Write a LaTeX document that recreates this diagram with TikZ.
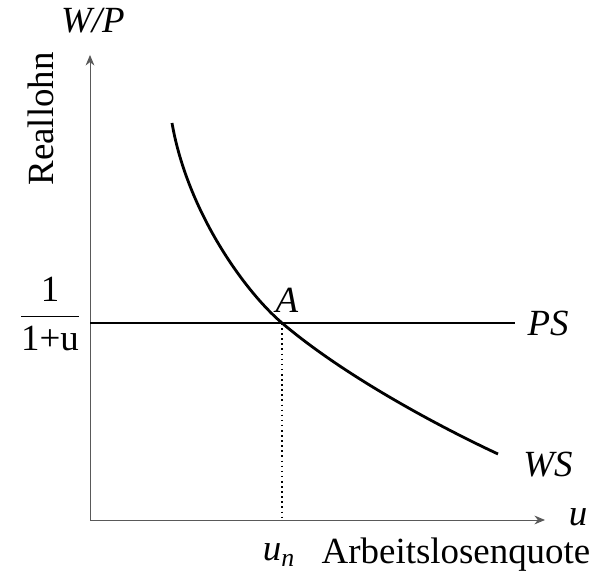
\documentclass[tikz,border=0pt]{standalone}
\usepackage{amsmath}
\usepackage{fontspec}
\setmainfont{Liberation Serif}
\usetikzlibrary{arrows.meta}

\begin{document}
\begin{tikzpicture}[font=\fontsize{21}{24}\selectfont,
    axis/.style={gray!70!black, line width=0.5pt, -{Stealth[length=6pt,width=5pt]}},
    curve/.style={line width=1.6pt}]
    \useasboundingbox (0,0) rectangle (11.94,11.64);

    % Axes
    \coordinate (O) at (1.8,1.24);
    \coordinate (ytop) at (1.8,10.54);
    \coordinate (xend) at (10.9,1.24);
    \draw[axis] (O) -- (ytop);
    \draw[axis] (O) -- (xend);
    \node (wp) at (1.86,11.22) {\textit{W/P}};
    \node (u) at (11.56,1.3) {\textit{u}};
    \node[rotate=90] (reallohn) at (0.82,9.26) {Reallohn};

    % PS curve
    \coordinate (psstart) at (1.8,5.18);
    \coordinate (psend) at (10.3,5.18);
    \draw[curve] (psstart) -- (psend);
    \node (ps) at (10.96,5.18) {\textit{PS}};
    \node (markup) at (1.0,5.36) {$\dfrac{\textrm{1}}{\textrm{1+u}}$};

    % WS curve, through the equilibrium A
    \coordinate (A) at (5.64,5.18);
    \coordinate (wsstart) at (3.44,9.18);
    \coordinate (wsend) at (9.96,2.56);
    \draw[curve] (wsstart) .. controls (3.75,7.4) and (4.9,5.81) .. (A)
        .. controls (6.9,4.11) and (8.8,3.1) .. (wsend);
    \node (ws) at (10.96,2.34) {\textit{WS}};

    % Equilibrium
    \coordinate (un) at (5.64,1.24);
    \node (alabel) at (5.74,5.64) {\textit{A}};
    \draw[dotted, line width=0.9pt] (A) -- (un);
    \node (unlabel) at (5.58,0.54) {\textit{u}\textsubscript{\textit{n}}};
    \node (quote) at (9.12,0.54) {Arbeitslosenquote};
\end{tikzpicture}
\end{document}
